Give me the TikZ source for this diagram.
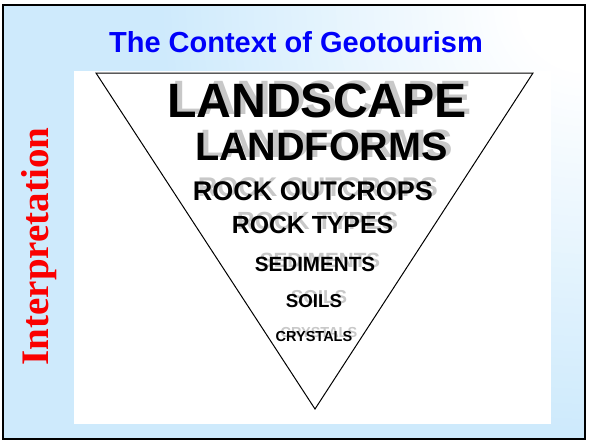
\documentclass[tikz,border=0pt]{standalone}
\usepackage{fontspec}
\setmainfont{Liberation Sans}
\newfontfamily\headserif{Liberation Serif}
\definecolor{bgblue}{RGB}{206,234,252}
\definecolor{titleblue}{RGB}{0,0,250}
\definecolor{shadowgray}{RGB}{200,200,200}
\definecolor{sidered}{RGB}{250,0,0}

\begin{document}
\begin{tikzpicture}[x=1pt,y=-1pt,
  layer/.style={font=\bfseries\fontsize{#1}{#1}\selectfont, inner sep=0pt, anchor=base},
  layershadow/.style={layer=#1, text=shadowgray},
  slidetitle/.style={font=\bfseries\fontsize{29}{29}\selectfont, text=titleblue, inner sep=0pt, anchor=base},
  sidelabel/.style={font=\headserif\bfseries\fontsize{39}{39}\selectfont, text=sidered, rotate=90, inner sep=0pt, anchor=base},
  funnel/.style={draw=black, line width=1pt, line join=miter}]
\useasboundingbox (0,0) rectangle (589,442);

% slide background: light blue, fading to white towards the top right corner
\begin{scope}
  \clip (3,5) rectangle (585,439);
  \fill[bgblue] (0,0) rectangle (589,442);
  \foreach \i in {0,...,48}{
    \pgfmathsetmacro{\rad}{430-\i*7.5}
    \pgfmathsetmacro{\mix}{100-\i*100/48}
    \fill[bgblue!\mix!white] (586,4) circle (\rad pt);
  }
\end{scope}
\draw[black, line width=2.2pt] (3,5) rectangle (585,439);

% title
\node[slidetitle] (title) at (296,52) {The Context of Geotourism};

% side label
\node[sidelabel] (interp) at (48,246.5) {Interpretation};

% white panel
\fill[white] (74,71) rectangle (551,424);

% inverted triangle
\coordinate (tl) at (96,73);
\coordinate (tr) at (533,73);
\coordinate (bt) at (315,409);
\draw[funnel] (tl) -- (tr) -- (bt) -- cycle;

% shadows of the layer names
\node[layershadow=48.2] (landscape-sh) at (322,114) {LANDSCAPE};
\node[layershadow=39.6] (landforms-sh) at (326.5,157) {LANDFORMS};
\node[layershadow=27] (outcrops-sh) at (318,196) {ROCK OUTCROPS};
\node[layershadow=24.8] (types-sh) at (317.5,229) {ROCK TYPES};
\node[layershadow=20.6] (sediments-sh) at (320,267) {SEDIMENTS};
\node[layershadow=18.7] (soils-sh) at (319,303) {SOILS};
\node[layershadow=14.5] (crystals-sh) at (319,337) {CRYSTALS};

% layer names
\node[layer=48.2] (landscape) at (317,117) {LANDSCAPE};
\node[layer=39.6] (landforms) at (321.5,160) {LANDFORMS};
\node[layer=27] (outcrops) at (313,200) {ROCK OUTCROPS};
\node[layer=24.8] (types) at (312.5,233) {ROCK TYPES};
\node[layer=20.6] (sediments) at (315,271) {SEDIMENTS};
\node[layer=18.7] (soils) at (314,307) {SOILS};
\node[layer=14.5] (crystals) at (314,341) {CRYSTALS};
\end{tikzpicture}
\end{document}
